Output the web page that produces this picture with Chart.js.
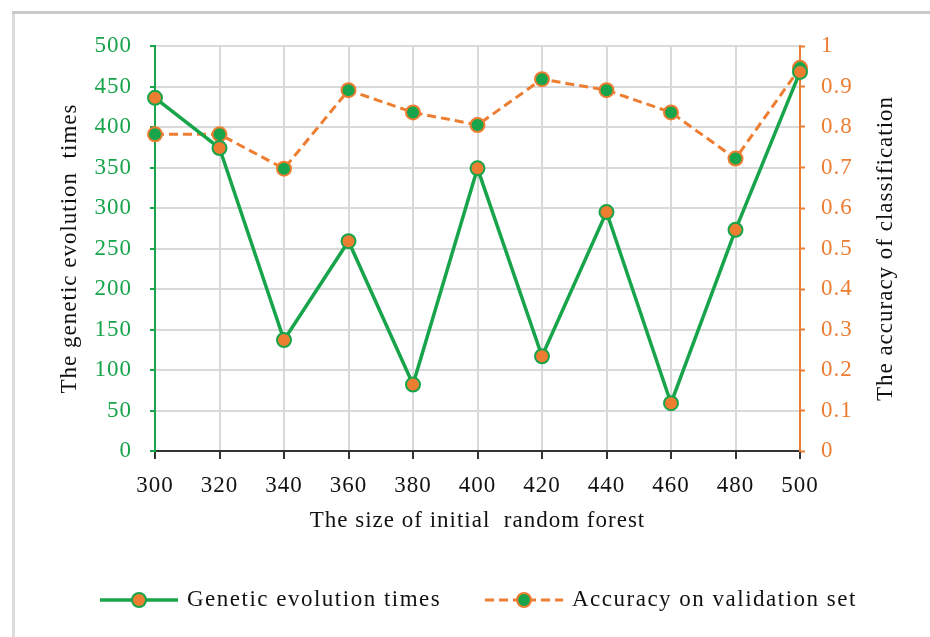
<!DOCTYPE html>
<html>
<head>
<meta charset="utf-8">
<script src="https://cdn.jsdelivr.net/npm/chart.js@4/dist/chart.umd.min.js"></script>
<style>
  html, body { margin: 0; padding: 0; background: #fff; }
  #wrap { position: relative; width: 930px; height: 637px; }
</style>
</head>
<body>
<div id="wrap"><canvas id="chart" width="930" height="637"></canvas></div>
<script>
// dados
const forestSizes = ['300', '320', '340', '360', '380', '400', '420', '440', '460', '480', '500'];
const evolutionTimes = [436, 374, 137, 259, 82, 349, 117, 295, 59, 273, 468];
const accuracy = [0.782, 0.782, 0.697, 0.891, 0.836, 0.805, 0.918, 0.891, 0.836, 0.722, 0.946];
const seriesNames = ['Genetic evolution times', 'Accuracy on validation set'];
const xTitle = 'The size of initial  random forest';
const leftTitle = 'The genetic evolution  times';
const rightTitle = 'The accuracy of classification';

const GREEN = '#18a44b';
const ORANGE = '#ed7d31';
const FONT = '"Liberation Serif", "Times New Roman", serif';
const FS = 23;

// moldura cinza (topo e esquerda), título da direita e legenda desenhados à mão
const framePlugin = {
   id: 'frame',
   beforeDraw(chart) {
      const ctx = chart.ctx;
      ctx.save();
      ctx.fillStyle = '#fff';
      ctx.fillRect(0, 0, chart.width, chart.height);
      ctx.lineWidth = 3;
      ctx.strokeStyle = '#c9c9c9';
      ctx.beginPath();
      ctx.moveTo(12, 12.5);
      ctx.lineTo(chart.width, 12.5);
      ctx.stroke();
      ctx.strokeStyle = '#dcdcdc';
      ctx.beginPath();
      ctx.moveTo(13.5, 14);
      ctx.lineTo(13.5, chart.height);
      ctx.stroke();
      ctx.restore();
      ctx.letterSpacing = '1px';
   },
   afterDraw(chart) {
      const ctx = chart.ctx;
      const area = chart.chartArea;
      ctx.save();
      // título do eixo direito, lido de baixo para cima
      ctx.translate(chart.scales.y1.right - 44, (area.top + area.bottom) / 2);
      ctx.rotate(-Math.PI / 2);
      ctx.fillStyle = '#111';
      ctx.font = FS + 'px ' + FONT;
      ctx.letterSpacing = '1px';
      ctx.textAlign = 'center';
      ctx.textBaseline = 'middle';
      ctx.fillText(rightTitle, 0, 0);
      ctx.restore();

      const items = [{ x: 100 }, { x: 485 }];
      const y = 600;
      ctx.save();
      chart.data.datasets.forEach((ds, i) => {
         const x0 = items[i].x;
         ctx.beginPath();
         ctx.lineWidth = ds.borderWidth;
         ctx.strokeStyle = ds.borderColor;
         ctx.setLineDash(ds.borderDash || []);
         ctx.moveTo(x0, y);
         ctx.lineTo(x0 + 78, y);
         ctx.stroke();
         ctx.setLineDash([]);
         ctx.beginPath();
         ctx.arc(x0 + 39, y, ds.pointRadius, 0, Math.PI * 2);
         ctx.fillStyle = ds.pointBackgroundColor;
         ctx.fill();
         ctx.lineWidth = ds.pointBorderWidth;
         ctx.strokeStyle = ds.pointBorderColor;
         ctx.stroke();
         ctx.fillStyle = '#111';
         ctx.font = FS + 'px ' + FONT;
         ctx.letterSpacing = '1.5px';
         ctx.textBaseline = 'middle';
         ctx.textAlign = 'left';
         ctx.fillText(ds.label, x0 + 87, y);
      });
      ctx.restore();
   }
};

new Chart(document.getElementById('chart'), {
   type: 'line',
   data: {
      labels: forestSizes,
      datasets: [{
         label: seriesNames[0],
         data: evolutionTimes,
         yAxisID: 'y',
         borderColor: GREEN,
         borderWidth: 3.5,
         pointRadius: 7,
         pointBorderWidth: 2,
         pointBackgroundColor: ORANGE,
         pointBorderColor: GREEN,
         tension: 0
      }, {
         label: seriesNames[1],
         data: accuracy,
         yAxisID: 'y1',
         borderColor: ORANGE,
         borderWidth: 3,
         borderDash: [9, 5],
         pointRadius: 7,
         pointBorderWidth: 2,
         pointBackgroundColor: GREEN,
         pointBorderColor: ORANGE,
         tension: 0
      }]
   },
   options: {
      responsive: false,
      animation: false,
      layout: { padding: { top: 46, left: 0, right: 0, bottom: 0 } },
      plugins: {
         legend: { display: false },
         tooltip: { enabled: false }
      },
      scales: {
         x: {
            offset: false,
            afterFit: s => { s.height = 186; },
            grid: { color: '#d9d9d9', lineWidth: 2, tickColor: '#333', tickLength: 8, tickWidth: 2 },
            border: { color: '#333', width: 2 },
            ticks: { color: '#111', font: { family: FONT, size: FS }, padding: 13, maxRotation: 0 },
            title: {
               display: true,
               text: xTitle,
               color: '#111',
               font: { family: FONT, size: FS },
               padding: { top: 0, bottom: 102 }
            }
         },
         y: {
            position: 'left',
            min: 0,
            max: 500,
            afterFit: s => { s.width = 155; },
            grid: { color: '#d9d9d9', lineWidth: 2, tickColor: GREEN, tickLength: 5, tickWidth: 2 },
            border: { color: GREEN, width: 2 },
            ticks: { stepSize: 50, color: GREEN, font: { family: FONT, size: FS }, padding: 18 },
            title: {
               display: true,
               text: leftTitle,
               color: '#111',
               font: { family: FONT, size: FS },
               padding: { top: 56, bottom: 0 }
            }
         },
         y1: {
            position: 'right',
            min: 0,
            max: 1,
            afterFit: s => { s.width = 130; },
            grid: { drawOnChartArea: false, tickColor: ORANGE, tickLength: 5, tickWidth: 2 },
            border: { color: ORANGE, width: 2 },
            ticks: {
               stepSize: 0.1,
               color: ORANGE,
               font: { family: FONT, size: FS },
               padding: 16,
               callback: v => String(Math.round(v * 10) / 10)
            }
         }
      }
   },
   plugins: [framePlugin]
});
</script>
</body>
</html>
